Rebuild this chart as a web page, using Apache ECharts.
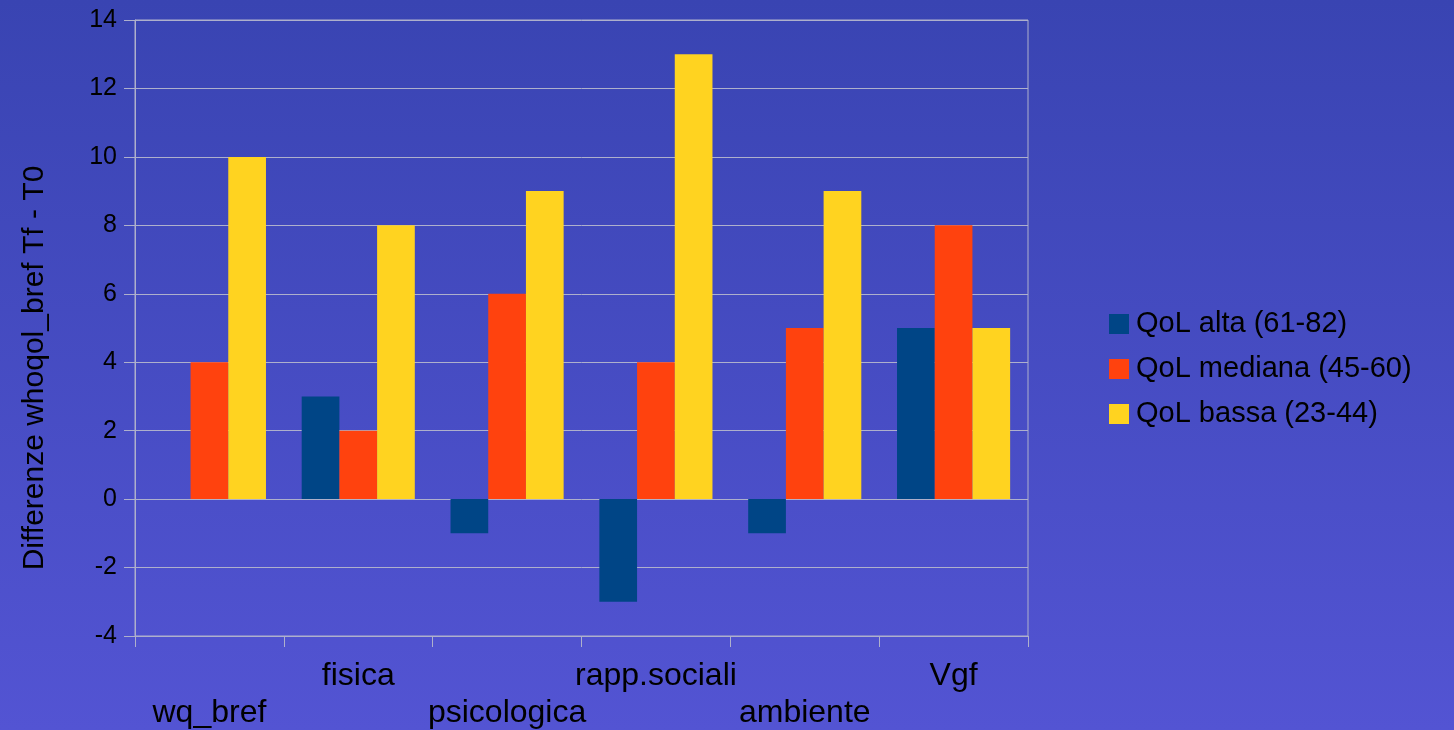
<!DOCTYPE html>
<html>
<head>
<meta charset="utf-8">
<script src="https://cdn.jsdelivr.net/npm/echarts@6/dist/echarts.min.js"></script>
<style>
  html, body { margin: 0; padding: 0; }
  #chart { width: 1454px; height: 730px; }
</style>
</head>
<body>
<div id="chart"></div>
<script>
// Categories and per-group changes (Tf - T0)
const categories = ['wq_bref', 'fisica', 'psicologica', 'rapp.sociali', 'ambiente', 'Vgf'];
const qolAlta = [0, 3, -1, -3, -1, 5];
const qolMediana = [4, 2, 6, 4, 5, 8];
const qolBassa = [10, 8, 9, 13, 9, 5];
const seriesNames = ['QoL alta (61-82)', 'QoL mediana (45-60)', 'QoL bassa (23-44)'];
const yTicks = { min: -4, max: 14, interval: 2 };

const FONT = '"Liberation Sans", Arial, sans-serif';
const lineColor = '#aeb0cc';

const chart = echarts.init(document.getElementById('chart'));
chart.setOption({
  animation: false,
  backgroundColor: {
    type: 'linear', x: 0, y: 0, x2: 0, y2: 1,
    colorStops: [
      { offset: 0, color: '#3944b2' },
      { offset: 1, color: '#5354d3' }
    ]
  },
  color: ['#004586', '#ff420e', '#ffd320'],
  grid: {
    left: 135, right: 426, top: 20, bottom: 94,
    outerBoundsMode: 'none',
    show: true, borderColor: lineColor, borderWidth: 1
  },
  legend: {
    orient: 'vertical',
    left: 1104, top: 304,
    icon: 'rect',
    itemWidth: 20, itemHeight: 20,
    itemGap: 15,
    textStyle: { color: '#000', fontSize: 29, fontFamily: FONT, lineHeight: 30, padding: [0, 0, 0, 2] },
    data: seriesNames
  },
  graphic: [{
    type: 'text',
    x: 35, y: 368,
    rotation: Math.PI / 2,
    style: {
      text: 'Differenze whoqol_bref Tf - T0',
      fill: '#000',
      font: '30px ' + FONT,
      textAlign: 'center',
      textVerticalAlign: 'middle'
    }
  }],
  xAxis: {
    type: 'category',
    data: categories,
    axisLine: { show: true, onZero: false, lineStyle: { color: lineColor, width: 1 } },
    axisTick: { show: true, length: 11, lineStyle: { color: lineColor } },
    axisLabel: {
      interval: 0,
      color: '#000',
      fontSize: 32,
      fontFamily: FONT,
      lineHeight: 37,
      margin: 22,
      formatter: (v, i) => (i % 2 === 0 ? '\n' + v : v)
    }
  },
  yAxis: {
    type: 'value',
    min: yTicks.min, max: yTicks.max, interval: yTicks.interval,
    axisLine: { show: true, lineStyle: { color: lineColor, width: 1 } },
    axisTick: { show: true, length: 11, lineStyle: { color: lineColor } },
    axisLabel: { color: '#000', fontSize: 25, fontFamily: FONT, margin: 18 },
    splitLine: { show: true, lineStyle: { color: lineColor, width: 1 } }
  },
  series: [
    { name: seriesNames[0], type: 'bar', data: qolAlta, barGap: '0%', barCategoryGap: '24%' },
    { name: seriesNames[1], type: 'bar', data: qolMediana, barGap: '0%', barCategoryGap: '24%' },
    { name: seriesNames[2], type: 'bar', data: qolBassa, barGap: '0%', barCategoryGap: '24%' }
  ]
});
</script>
</body>
</html>
